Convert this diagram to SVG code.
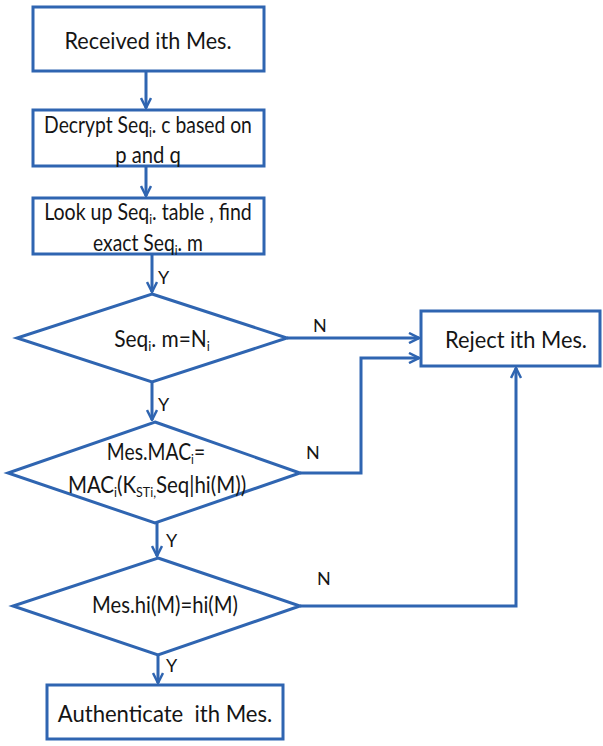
<svg xmlns="http://www.w3.org/2000/svg" width="603" height="746" viewBox="0 0 603 746">
  <style>
    .shape { fill: #ffffff; stroke: #2f65b1; stroke-width: 3; }
    .wire { fill: none; stroke: #2f65b1; stroke-width: 3; }
    .lbl { font-family: Lato, "Open Sans", sans-serif; font-size: 23px; fill: #151515; text-anchor: middle; }
    .yn { font-family: Lato, "Open Sans", sans-serif; font-size: 18px; fill: #151515; }
    .sub { font-size: 14px; }
  </style>
  <defs>
    <marker id="chev" viewBox="0 0 12 12" refX="11" refY="6" markerWidth="12" markerHeight="12" markerUnits="userSpaceOnUse" orient="auto">
      <path d="M1,1 L11,6 L1,11" fill="none" stroke="#2f65b1" stroke-width="2.5"/>
    </marker>
  </defs>
  <rect width="603" height="746" fill="#ffffff"/>

  <g id="connectors">
    <line class="wire" x1="146" y1="71" x2="146" y2="108" marker-end="url(#chev)"/>
    <line class="wire" x1="146" y1="166" x2="146" y2="196" marker-end="url(#chev)"/>
    <line class="wire" x1="152" y1="254" x2="152" y2="292" marker-end="url(#chev)"/>
    <line class="wire" x1="152" y1="382" x2="152" y2="420" marker-end="url(#chev)"/>
    <line class="wire" x1="157" y1="523" x2="157" y2="556" marker-end="url(#chev)"/>
    <line class="wire" x1="158" y1="655" x2="158" y2="683" marker-end="url(#chev)"/>
    <line class="wire" x1="287" y1="338" x2="419" y2="338" marker-end="url(#chev)"/>
    <polyline class="wire" points="300,473 361,473 361,358 419,358" marker-end="url(#chev)"/>
    <polyline class="wire" points="300,606 516,606 516,368" marker-end="url(#chev)"/>
    <text class="yn" x="158" y="284">Y</text>
    <text class="yn" x="158" y="411">Y</text>
    <text class="yn" x="166" y="547">Y</text>
    <text class="yn" x="166" y="672">Y</text>
    <text class="yn" x="313" y="332">N</text>
    <text class="yn" x="306" y="459">N</text>
    <text class="yn" x="317" y="585">N</text>
  </g>

  <!-- labels are drawn at 23px and narrowed horizontally per line -->
  <g id="received">
    <rect class="shape" x="33" y="7" width="231" height="64"/>
    <text class="lbl" transform="translate(148 49) scale(0.94 1)">Received ith Mes.</text>
  </g>

  <g id="decrypt">
    <rect class="shape" x="33" y="110" width="231" height="56"/>
    <text class="lbl" transform="translate(148 133) scale(0.84 1)">Decrypt Seq<tspan class="sub" dy="4">i</tspan><tspan dy="-4">. c based on</tspan></text>
    <text class="lbl" transform="translate(148 163) scale(0.88 1)">p and q</text>
  </g>

  <g id="lookup">
    <rect class="shape" x="33" y="198" width="231" height="56"/>
    <text class="lbl" transform="translate(148 220) scale(0.85 1)">Look up Seq<tspan class="sub" dy="4">i</tspan><tspan dy="-4">. table , find</tspan></text>
    <text class="lbl" transform="translate(148 251) scale(0.84 1)">exact Seq<tspan class="sub" dy="4">i</tspan><tspan dy="-4">. m</tspan></text>
  </g>

  <g id="check-seq">
    <polygon class="shape" points="152,294 287,338 152,382 17,338"/>
    <text class="lbl" transform="translate(162 347) scale(0.91 1)">Seq<tspan class="sub" dy="4">i</tspan><tspan dy="-4">. m=N</tspan><tspan class="sub" dy="4">i</tspan></text>
  </g>

  <g id="check-mac">
    <polygon class="shape" points="155,422 300,473 155,523 8,473"/>
    <text class="lbl" transform="translate(156 460) scale(0.84 1)">Mes.MAC<tspan class="sub" dy="4">i</tspan><tspan dy="-4">=</tspan></text>
    <text class="lbl" transform="translate(157 493) scale(0.89 1)">MAC<tspan class="sub" dy="4">i</tspan><tspan dy="-4">(K</tspan><tspan class="sub" dy="4">STi,</tspan><tspan dy="-4">Seq|hi(M))</tspan></text>
  </g>

  <g id="check-hash">
    <polygon class="shape" points="158,558 300,606 158,655 13,606"/>
    <text class="lbl" transform="translate(165 613) scale(0.88 1)">Mes.hi(M)=hi(M)</text>
  </g>

  <g id="authenticate">
    <rect class="shape" x="47" y="685" width="236" height="54"/>
    <text class="lbl" transform="translate(165 722) scale(0.96 1)" xml:space="preserve">Authenticate  ith Mes.</text>
  </g>

  <g id="reject">
    <rect class="shape" x="421" y="311" width="179" height="55"/>
    <text class="lbl" transform="translate(516 348) scale(0.95 1)">Reject ith Mes.</text>
  </g>
</svg>
